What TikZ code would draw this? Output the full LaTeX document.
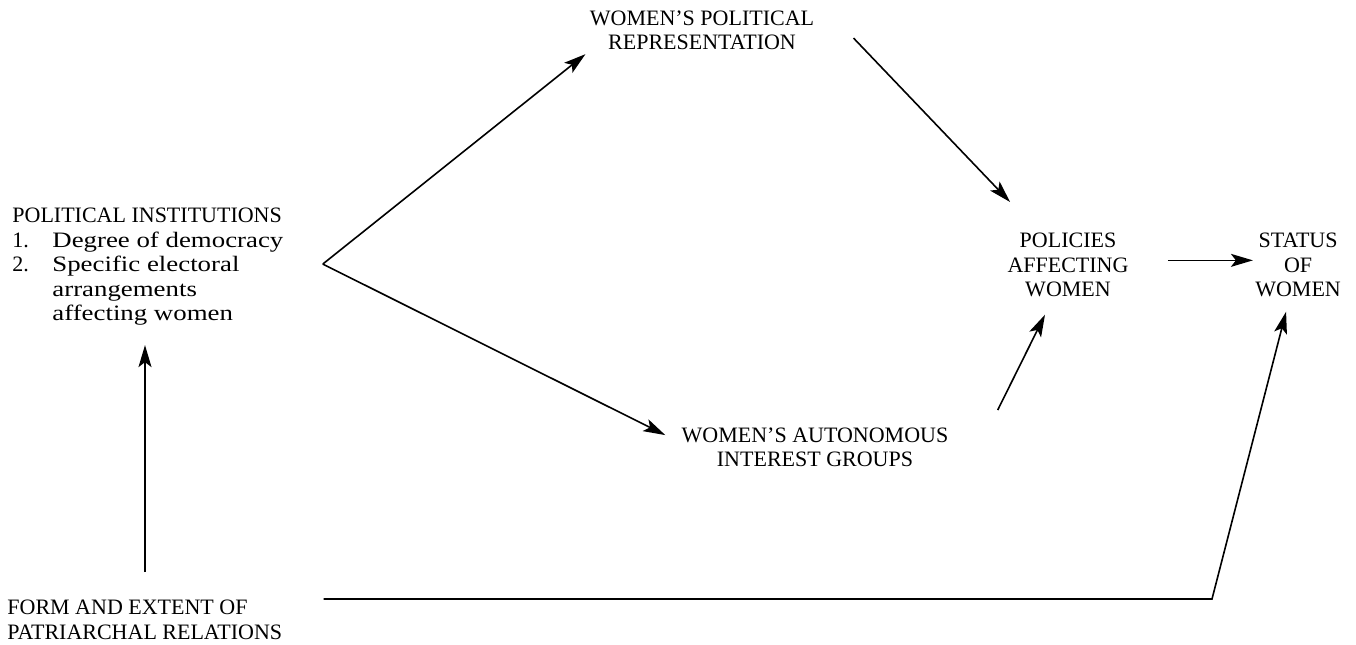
\documentclass[tikz,border=0pt]{standalone}
\usepackage{fontspec}
\setmainfont{Liberation Serif}
\newfontfamily\widefont[FakeStretch=1.22]{Liberation Serif}
\usetikzlibrary{positioning,arrows.meta,calc}

\begin{document}
\begin{tikzpicture}[x=0.5pt, y=-0.5pt,
      lbl/.style={inner sep=2pt, font=\fontsize{11}{12.25}\selectfont},
      ctr/.style={lbl, align=center, anchor=north},
      arr/.style={-{Stealth[length=11pt,width=6.5pt,inset=2.5pt]}, line width=0.8pt}]
    \useasboundingbox (0,0) rectangle (1356,644);
    \node[lbl, align=left, anchor=north west] (inst) at (8,204) {POLITICAL INSTITUTIONS\\
      \makebox[20pt][l]{1.}{\widefont Degree of democracy}\\
      \makebox[20pt][l]{2.}{\widefont Specific electoral}\\
      \hspace*{20pt}{\widefont arrangements}\\
      \hspace*{20pt}{\widefont affecting women}};
    \node[ctr] (repr) at (702,6) {WOMEN'S POLITICAL\\ REPRESENTATION};
    \node[ctr] (groups) at (815,423) {WOMEN'S AUTONOMOUS\\ INTEREST GROUPS};
    \node[ctr] (policy) at (1068,229) {POLICIES\\ AFFECTING\\ WOMEN};
    \node[lbl, align=center, right=59pt of policy] (status) {STATUS\\ OF\\ WOMEN};
    \node[lbl, align=left, anchor=north west] (patri) at (3,596) {FORM AND EXTENT OF\\
      PATRIARCHAL RELATIONS};
    \coordinate (fork) at ($(inst.east)+(35,-3)$);
    \coordinate (up) at ($(patri.north west)+(142,-24)$);
    \coordinate (knee) at (1212,599);
    \draw[arr] (fork) -- (repr.south west);
    \draw[arr] (fork) -- ($(groups.west)+(-12,-12)$);
    \draw[arr] ($(repr.east)+(35,8)$) -- ($(policy.north west)+(7,-27)$);
    \draw[arr] ($(groups.north east)+(45,-13)$) -- ($(policy.south)+(-23,13)$);
    \draw[arr] ($(policy.east)+(35,-5)$) -- ($(status.west)+(2,-5)$);
    \draw[arr] (up) -- ($(up |- inst.south)+(0,15)$);
    \draw[arr] ($(patri.north east)+(37,3)$) -- (knee) -- ($(status.south)+(-12,10)$);
  \end{tikzpicture}
\end{document}
